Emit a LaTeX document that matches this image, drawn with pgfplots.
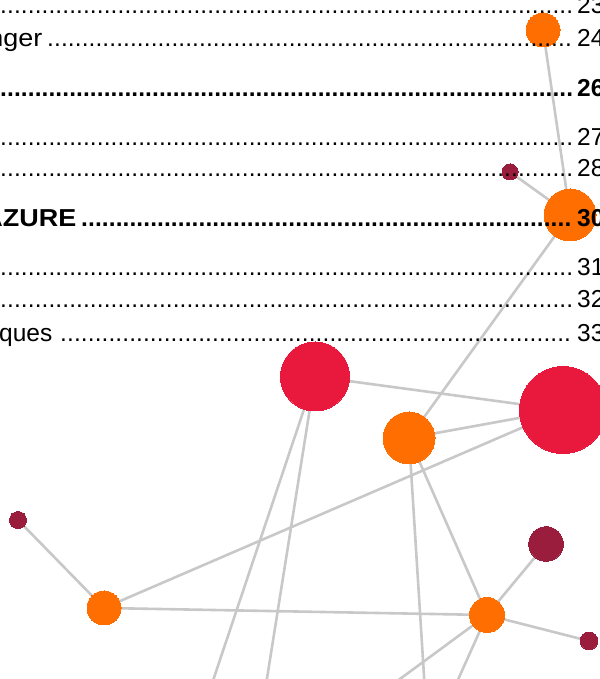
\documentclass[border=0pt]{standalone}
\usepackage{pgfplots}
\pgfplotsset{compat=1.18}
\usepackage{fontspec}
\setmainfont{Liberation Sans}
\definecolor{orangeC}{RGB}{255,110,0}
\definecolor{redC}{RGB}{232,25,60}
\definecolor{darkC}{RGB}{155,29,61}
\definecolor{edgeC}{RGB}{200,200,200}
\newcommand\tocfont{\fontsize{24.5}{28}\selectfont}
\newcommand\numfont{\fontsize{24.5}{28}\selectfont}
\newcommand\dotsreg[1]{\hbox to #1pt{\tocfont\leaders\hbox to 6.9pt{\hss.\hss}\hfill}}
\newcommand\dotsbold[1]{\hbox to #1pt{\tocfont\bfseries\leaders\hbox to 6.9pt{\hss.\hss}\hfill}}

\pgfplotstableread{
x y r
543 30 17
570 215 26
409 438 26
487 615 17.5
104 608 17
}\orangenodes
\pgfplotstableread{
x y r
315 376.5 34.5
563 410 43.5
}\rednodes
\pgfplotstableread{
x y r
510 172 8
546 544 17.3
589 641 8.8
18 520 8.5
}\darknodes

\pgfplotsset{
  myedge/.style={color=edgeC, line width=2.6pt, no marks},
  mynodes/.style={only marks, mark=*, color=#1, scatter,
    mark options={draw=#1, fill=#1, line width=0pt},
    scatter/use mapped color={draw=#1, fill=#1},
    visualization depends on={\thisrow{r}\as\rad},
    scatter/@pre marker code/.append style={/tikz/mark size=\rad, /tikz/line width=0pt}}}

\begin{document}
\begin{tikzpicture}
\begin{axis}[name=ax, scale only axis, width=599pt, height=679pt, set layers,
  xmin=0, xmax=599, ymin=0, ymax=679, y dir=reverse, hide axis, clip=true]
% edges
\addplot[myedge] coordinates {(543,30) (570,215)};
\addplot[myedge] coordinates {(510,172) (570,215)};
\addplot[myedge] coordinates {(570,215) (409,438)};
\addplot[myedge] coordinates {(315,376.5) (563,410)};
\addplot[myedge] coordinates {(409,438) (563,410)};
\addplot[myedge] coordinates {(104,608) (563,410)};
\addplot[myedge] coordinates {(18,520) (104,608)};
\addplot[myedge] coordinates {(104,608) (487,615)};
\addplot[myedge] coordinates {(409,438) (487,615)};
\addplot[myedge] coordinates {(487,615) (546,544)};
\addplot[myedge] coordinates {(487,615) (589,641)};
\addplot[myedge] coordinates {(315,376.5) (180,779)};
\addplot[myedge] coordinates {(315,376.5) (251,779)};
\addplot[myedge] coordinates {(409,438) (430.5,779)};
\addplot[myedge] coordinates {(487,615) (264,779)};
\addplot[myedge] coordinates {(487,615) (413.5,779)};
% nodes
\addplot[mynodes=orangeC] table[x=x, y=y] {\orangenodes};
\addplot[mynodes=redC] table[x=x, y=y] {\rednodes};
\addplot[mynodes=darkC] table[x=x, y=y] {\darknodes};
% table of contents text
\begin{pgfonlayer}{axis foreground}
\node[anchor=base west, inner sep=0] at (axis cs:0,14) {\dotsreg{573}};
\node[anchor=base west, inner sep=0, font=\numfont] at (axis cs:577,14) {23};
\node[anchor=base east, inner sep=0, font=\tocfont] at (axis cs:42.5,47) {\scalebox{1.1}[1]{nger}};
\node[anchor=base west, inner sep=0] at (axis cs:47,47) {\dotsreg{526}};
\node[anchor=base west, inner sep=0, font=\numfont] at (axis cs:577,47) {24};
\node[anchor=base west, inner sep=0] at (axis cs:0,97) {\dotsbold{573}};
\node[anchor=base west, inner sep=0, font=\numfont\bfseries] at (axis cs:577,97) {26};
\node[anchor=base west, inner sep=0] at (axis cs:0,145.5) {\dotsreg{573}};
\node[anchor=base west, inner sep=0, font=\numfont] at (axis cs:577,145.5) {27};
\node[anchor=base west, inner sep=0] at (axis cs:0,177) {\dotsreg{573}};
\node[anchor=base west, inner sep=0, font=\numfont] at (axis cs:577,177) {28};
\node[anchor=base east, inner sep=0, font=\tocfont\bfseries] at (axis cs:76.5,227) {\scalebox{1.1}[1]{AZURE}};
\node[anchor=base west, inner sep=0] at (axis cs:81,227) {\dotsbold{492}};
\node[anchor=base west, inner sep=0, font=\numfont\bfseries] at (axis cs:577,227) {30};
\node[anchor=base west, inner sep=0] at (axis cs:0,275.5) {\dotsreg{573}};
\node[anchor=base west, inner sep=0, font=\numfont] at (axis cs:577,275.5) {31};
\node[anchor=base west, inner sep=0] at (axis cs:0,308) {\dotsreg{573}};
\node[anchor=base west, inner sep=0, font=\numfont] at (axis cs:577,308) {32};
\node[anchor=base east, inner sep=0, font=\tocfont] at (axis cs:52.5,342) {ques};
\node[anchor=base west, inner sep=0] at (axis cs:60,342) {\dotsreg{513}};
\node[anchor=base west, inner sep=0, font=\numfont] at (axis cs:577,342) {33};
\end{pgfonlayer}
\end{axis}
\pgfresetboundingbox
\useasboundingbox (ax.south west) rectangle (ax.north east);
\end{tikzpicture}
\end{document}
